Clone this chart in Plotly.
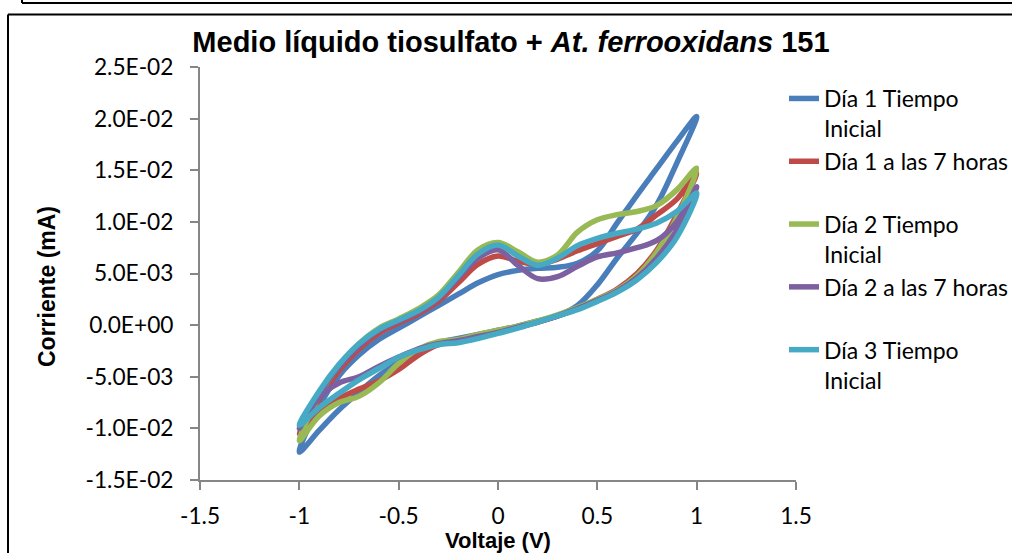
import plotly.graph_objects as go

# Voltage grid (V): forward sweep -1 -> 1, reverse sweep 1 -> -1
v_forward = [-1.0, -0.9, -0.8, -0.7, -0.6, -0.5, -0.4, -0.3, -0.2, -0.1, 0.0,
             0.1, 0.2, 0.3, 0.4, 0.5, 0.6, 0.7, 0.8, 0.9, 1.0]
v_reverse = v_forward[::-1]

# Current (mA) along the forward (anodic) sweep
d1_ini_fwd = [-0.0123, -0.0078, -0.0049, -0.0029, -0.0014, -0.0003, 0.0008, 0.0019, 0.0030, 0.0041, 0.0049,
              0.0053, 0.0055, 0.0056, 0.0060, 0.0072, 0.0099, 0.0126, 0.0152, 0.0178, 0.0202]
d1_7h_fwd = [-0.0105, -0.0072, -0.0044, -0.0023, -0.0008, 0.0002, 0.0011, 0.0023, 0.0041, 0.0059, 0.0067,
             0.0062, 0.0059, 0.0064, 0.0072, 0.0079, 0.0086, 0.0093, 0.0107, 0.0122, 0.0147]
d2_ini_fwd = [-0.0112, -0.0068, -0.0039, -0.0018, -0.0003, 0.0006, 0.0016, 0.0029, 0.0051, 0.0073, 0.0080,
              0.0071, 0.0061, 0.0068, 0.0090, 0.0102, 0.0107, 0.0110, 0.0116, 0.0131, 0.0152]
d2_7h_fwd = [-0.0100, -0.0066, -0.0040, -0.0020, -0.0005, 0.0004, 0.0013, 0.0026, 0.0046, 0.0065, 0.0073,
             0.0058, 0.0045, 0.0047, 0.0057, 0.0066, 0.0070, 0.0075, 0.0082, 0.0100, 0.0134]
d3_ini_fwd = [-0.0097, -0.0064, -0.0038, -0.0018, -0.0004, 0.0005, 0.0014, 0.0027, 0.0048, 0.0069, 0.00775,
              0.0067, 0.0058, 0.0065, 0.0077, 0.0084, 0.0089, 0.0093, 0.0099, 0.0110, 0.0128]

# Current (mA) along the reverse (cathodic) sweep, from 1 V back to -1 V
d1_ini_rev = [0.0202, 0.0157, 0.0117, 0.0089, 0.0065, 0.0039, 0.0019, 0.0009, 0.0004, -0.0001, -0.0005,
              -0.0009, -0.0013, -0.0017, -0.0025, -0.0036, -0.0049, -0.0065, -0.0082, -0.0102, -0.0123]
d1_7h_rev = [0.0147, 0.0107, 0.0073, 0.0050, 0.0035, 0.0025, 0.0016, 0.0009, 0.0003, -0.0002, -0.0007,
             -0.0011, -0.0015, -0.0019, -0.0029, -0.0043, -0.0054, -0.0062, -0.0071, -0.0083, -0.0105]
d2_ini_rev = [0.0152, 0.0104, 0.0071, 0.0048, 0.0034, 0.0025, 0.0017, 0.0010, 0.0004, -0.0001, -0.0005,
              -0.0009, -0.0014, -0.0016, -0.0023, -0.0037, -0.0056, -0.0069, -0.0075, -0.0088, -0.0112]
d2_7h_rev = [0.0134, 0.0092, 0.0065, 0.0046, 0.0033, 0.0024, 0.0016, 0.0009, 0.0003, -0.0002, -0.0007,
             -0.0011, -0.0015, -0.0018, -0.0023, -0.0031, -0.0040, -0.0050, -0.0056, -0.0070, -0.0100]
d3_ini_rev = [0.0128, 0.0085, 0.0061, 0.0044, 0.0032, 0.0023, 0.0015, 0.0009, 0.0003, -0.0003, -0.0008,
              -0.0013, -0.0017, -0.0019, -0.0024, -0.0031, -0.0042, -0.0053, -0.0066, -0.0080, -0.0097]

series_names = ["Día 1 Tiempo<br>Inicial", "Día 1 a las 7 horas<br> ", "Día 2 Tiempo<br>Inicial",
                "Día 2 a las 7 horas<br> ", "Día 3 Tiempo<br>Inicial"]
series_colors = ["#4A7EBB", "#BE4B48", "#98B954", "#7D60A0", "#46AAC5"]
series_fwd = [d1_ini_fwd, d1_7h_fwd, d2_ini_fwd, d2_7h_fwd, d3_ini_fwd]
series_rev = [d1_ini_rev, d1_7h_rev, d2_ini_rev, d2_7h_rev, d3_ini_rev]

x_tickvals = [-1.5, -1, -0.5, 0, 0.5, 1, 1.5]
x_ticktext = ["-1.5", "-1", "-0.5", "0", "0.5", "1", "1.5"]
y_tickvals = [-0.015, -0.01, -0.005, 0.0, 0.005, 0.01, 0.015, 0.02, 0.025]
y_ticktext = ["-1.5E-02", "-1.0E-02", "-5.0E-03", "0.0E+00", "5.0E-03", "1.0E-02", "1.5E-02", "2.0E-02", "2.5E-02"]

W, H = 1012, 553
L, R, T, B = 200, 216, 67, 73
PW, PH = W - L - R, H - T - B


def px(x):
    return (x - L) / PW


def py(y):
    return (H - B - y) / PH


fig = go.Figure()
for i, name in enumerate(series_names):
    fig.add_trace(go.Scatter(
        x=v_forward + v_reverse[1:],
        y=series_fwd[i] + series_rev[i][1:],
        mode="lines", name=name,
        line=dict(color=series_colors[i], width=5.5, shape="spline", smoothing=1.0),
    ))

axis_col = "#868686"
tick_font = dict(family="Lato", size=22.7, color="black")

fig.update_layout(
    width=W, height=H,
    margin=dict(l=L, r=R, t=T, b=B, autoexpand=False),
    paper_bgcolor="white", plot_bgcolor="white",
    title=dict(text="<b>Medio líquido tiosulfato + <i>At. ferrooxidans</i> 151</b>",
               font=dict(family="Liberation Sans", size=29, color="black"),
               x=px(511), xanchor="center", xref="paper", y=1 - 42 / H, yanchor="middle"),
    xaxis=dict(range=[-1.5, 1.5], tickvals=x_tickvals, ticktext=x_ticktext,
               showline=True, linecolor=axis_col, linewidth=2, ticks="outside",
               ticklen=8, tickwidth=2, tickcolor=axis_col, showgrid=False, zeroline=False,
               tickfont=tick_font, ticklabelstandoff=7),
    yaxis=dict(range=[-0.015, 0.025], tickvals=y_tickvals, ticktext=y_ticktext,
               showline=True, linecolor=axis_col, linewidth=2, ticks="outside",
               ticklen=8, tickwidth=2, tickcolor=axis_col, showgrid=False, zeroline=False,
               tickfont=tick_font, ticklabelstandoff=12),
    legend=dict(x=px(784), xanchor="left", y=py(77), yanchor="top",
                font=dict(family="Lato", size=23, color="black"),
                traceorder="normal", valign="top",
                bgcolor="rgba(0,0,0,0)", borderwidth=0),
    showlegend=True,
)

fig.add_annotation(text="<b>Voltaje (V)</b>", xref="paper", yref="paper", x=px(498), y=py(540),
                   showarrow=False, font=dict(family="Liberation Sans", size=22, color="black"),
                   xanchor="center", yanchor="middle")
fig.add_annotation(text="<b>Corriente (mA)</b>", xref="paper", yref="paper", x=px(47), y=py(287),
                   showarrow=False, textangle=-90,
                   font=dict(family="Liberation Sans", size=23, color="black"),
                   xanchor="center", yanchor="middle")

frame = dict(color="black", width=2)
fig.add_shape(type="line", xref="paper", yref="paper", x0=px(22), x1=px(W + 5), y0=py(3), y1=py(3), line=frame)
fig.add_shape(type="line", xref="paper", yref="paper", x0=px(22), x1=px(22), y0=py(-5), y1=py(3), line=frame)
fig.add_shape(type="line", xref="paper", yref="paper", x0=px(8), x1=px(W + 5), y0=py(14.5), y1=py(14.5), line=frame)
fig.add_shape(type="line", xref="paper", yref="paper", x0=px(8), x1=px(8), y0=py(14.5), y1=py(H + 5), line=frame)

fig.write_html("out.html")
